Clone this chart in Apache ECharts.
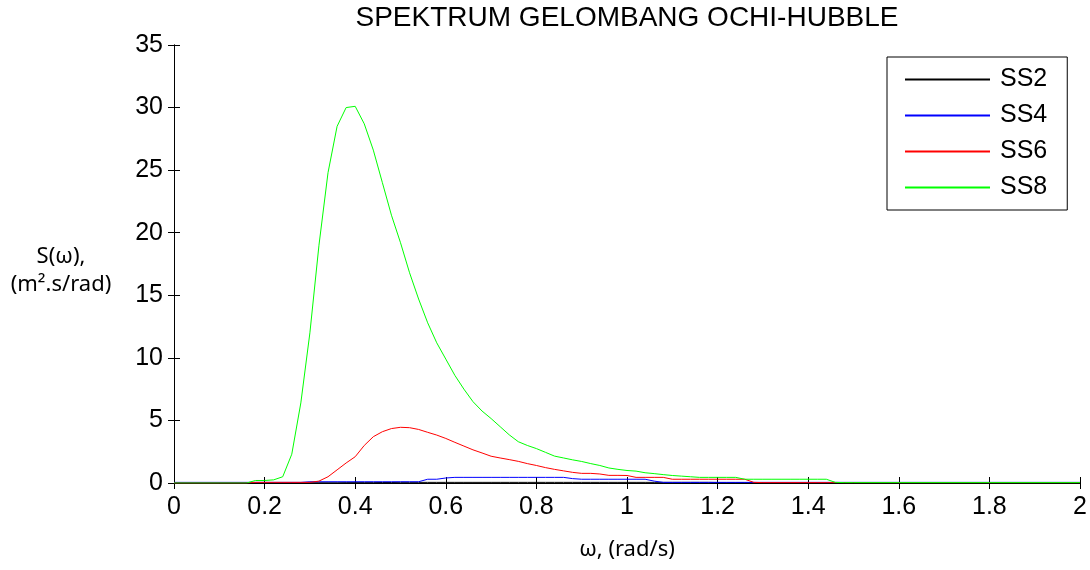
<!DOCTYPE html>
<html>
<head>
<meta charset="utf-8">
<script src="https://cdn.jsdelivr.net/npm/echarts@6/dist/echarts.min.js"></script>
<style>
  html, body { margin: 0; padding: 0; background: #fff; }
  #chart { width: 1090px; height: 570px; }
</style>
</head>
<body>
<div id="chart"></div>
<script>
// omega grid (rad/s)
const omega = [0, 0.1, 0.16,
  0.18, 0.2, 0.22, 0.24, 0.26, 0.28, 0.3, 0.32, 0.34, 0.36, 0.38, 0.4,
  0.42, 0.44, 0.46, 0.48, 0.5, 0.52, 0.54, 0.56, 0.58, 0.6,
  0.62, 0.64, 0.66, 0.68, 0.7, 0.72, 0.74, 0.76, 0.78, 0.8,
  0.82, 0.84, 0.86, 0.88, 0.9, 0.92, 0.94, 0.96, 0.98, 1.0,
  1.02, 1.04, 1.06, 1.08, 1.1, 1.12, 1.14, 1.16, 1.18, 1.2,
  1.22, 1.24, 1.26, 1.28, 1.3, 1.32, 1.34, 1.36, 1.38, 1.4,
  1.42, 1.44, 1.46, 1.48, 1.5, 1.6, 1.8, 2.0];

const ss2 = [0.02, 0.02, 0.02,
  0.02, 0.02, 0.02, 0.02, 0.02, 0.02, 0.02, 0.02, 0.02, 0.02, 0.03, 0.03,
  0.03, 0.03, 0.04, 0.04, 0.05, 0.05, 0.05, 0.05, 0.05, 0.05,
  0.05, 0.05, 0.05, 0.05, 0.05, 0.05, 0.05, 0.05, 0.05, 0.05,
  0.05, 0.05, 0.05, 0.05, 0.05, 0.05, 0.05, 0.05, 0.05, 0.05,
  0.05, 0.05, 0.05, 0.05, 0.05, 0.05, 0.05, 0.05, 0.05, 0.04,
  0.04, 0.04, 0.04, 0.03, 0.03, 0.03, 0.03, 0.03, 0.03, 0.03,
  0.02, 0.02, 0.02, 0.02, 0.02, 0.02, 0.02, 0.02];

const ss4 = [0.05, 0.05, 0.05,
  0.05, 0.05, 0.05, 0.05, 0.05, 0.05, 0.1, 0.1, 0.1, 0.1, 0.1, 0.1,
  0.1, 0.1, 0.1, 0.1, 0.1, 0.1, 0.1, 0.3, 0.3, 0.4,
  0.45, 0.45, 0.45, 0.45, 0.45, 0.45, 0.45, 0.45, 0.45, 0.45,
  0.45, 0.45, 0.45, 0.35, 0.3, 0.3, 0.3, 0.3, 0.3, 0.3,
  0.3, 0.3, 0.15, 0.05, 0.05, 0.05, 0.05, 0.05, 0.05, 0.05,
  0.05, 0.05, 0.05, 0.05, 0.05, 0.05, 0.05, 0.05, 0.05, 0.05,
  0.05, 0.05, 0.05, 0.05, 0.05, 0.05, 0.05, 0.05];

const ss6 = [0, 0, 0,
  0.05, 0.05, 0.05, 0.05, 0.05, 0.05, 0.05, 0.15, 0.5, 1.05, 1.6, 2.1,
  3.0, 3.7, 4.1, 4.35, 4.45, 4.42, 4.28, 4.05, 3.83, 3.56,
  3.25, 2.95, 2.65, 2.4, 2.14, 2.0, 1.87, 1.73, 1.55, 1.4,
  1.23, 1.09, 0.97, 0.85, 0.77, 0.77, 0.72, 0.61, 0.61, 0.6,
  0.45, 0.45, 0.45, 0.45, 0.3, 0.3, 0.3, 0.3, 0.3, 0.3,
  0.3, 0.3, 0.3, 0.05, 0.03, 0.03, 0.03, 0.03, 0.03, 0.03,
  0.03, 0.03, 0.03, 0.03, 0.03, 0.03, 0.03, 0.03];

const ss8 = [0, 0, 0,
  0.2, 0.2, 0.25, 0.5, 2.3, 6.4, 12.0, 19.0, 24.8, 28.5, 30.0, 30.1,
  28.7, 26.6, 24.0, 21.4, 19.2, 16.8, 14.7, 12.8, 11.2, 9.9,
  8.6, 7.5, 6.5, 5.75, 5.15, 4.5, 3.85, 3.3, 3.0, 2.75,
  2.45, 2.15, 2.0, 1.85, 1.72, 1.55, 1.4, 1.2, 1.09, 1.0,
  0.95, 0.82, 0.75, 0.67, 0.6, 0.55, 0.5, 0.45, 0.45, 0.45,
  0.45, 0.45, 0.3, 0.3, 0.3, 0.3, 0.3, 0.3, 0.3, 0.3,
  0.3, 0.3, 0.05, 0.03, 0.03, 0.03, 0.03, 0.03];

const seriesNames = ['SS2', 'SS4', 'SS6', 'SS8'];
const seriesColors = ['#000000', '#0000ff', '#ff0000', '#00ff00'];
const seriesData = [ss2, ss4, ss6, ss8];

const FONT = 'Liberation Sans, Arial, sans-serif';

function pairs(ys) {
  return omega.map((w, i) => [w, ys[i]]);
}

const chart = echarts.init(document.getElementById('chart'));

const mirrorAxis = {
  axisLine: { show: true, lineStyle: { color: '#000', width: 1 } },
  axisTick: { show: true, inside: true, length: 6, lineStyle: { color: '#000' } },
  axisLabel: { show: false },
  splitLine: { show: false }
};

chart.setOption({
  animation: false,
  backgroundColor: '#fff',
  color: seriesColors,
  title: {
    text: 'SPEKTRUM GELOMBANG OCHI-HUBBLE',
    left: 627,
    textAlign: 'center',
    top: 4,
    padding: 0,
    textStyle: { fontFamily: FONT, fontSize: 28, fontWeight: 'normal', color: '#000' }
  },
  legend: {
    data: seriesNames.map((n, i) => ({
      name: n,
      itemStyle: { color: seriesColors[i], borderWidth: 0 }
    })),
    icon: 'rect',
    orient: 'vertical',
    left: 887,
    top: 57,
    padding: [10, 20, 10, 18],
    itemWidth: 85,
    itemHeight: 2,
    itemGap: 11,
    borderColor: '#000',
    borderWidth: 1,
    backgroundColor: '#fff',
    textStyle: { fontFamily: FONT, fontSize: 25, color: '#000', padding: [0, 0, 0, 5] }
  },
  grid: { left: 174, right: 10, top: 45, bottom: 87 },
  xAxis: [
    {
      type: 'value',
      min: 0, max: 2, interval: 0.2,
      name: 'ω, (rad/s)',
      nameLocation: 'middle',
      nameGap: 56,
      nameTextStyle: { fontFamily: 'Noto Sans', fontSize: 22, color: '#000' },
      axisLine: { show: true, onZero: false, lineStyle: { color: '#000', width: 1 } },
      axisTick: { show: true, inside: true, length: 6, lineStyle: { color: '#000' } },
      axisLabel: {
        margin: 12, fontFamily: FONT, fontSize: 25, color: '#000',
        formatter: v => String(+v.toFixed(1))
      },
      splitLine: { show: false }
    },
    Object.assign({ type: 'value', position: 'top', min: 0, max: 2, interval: 0.2 }, mirrorAxis)
  ],
  yAxis: [
    {
      type: 'value',
      min: 0, max: 35, interval: 5,
      axisLine: { show: true, lineStyle: { color: '#000', width: 1 } },
      axisTick: { show: true, inside: true, length: 6, lineStyle: { color: '#000' } },
      axisLabel: { margin: 11, fontFamily: FONT, fontSize: 25, color: '#000' },
      splitLine: { show: false }
    },
    Object.assign({ type: 'value', position: 'right', min: 0, max: 35, interval: 5 }, mirrorAxis)
  ],
  graphic: [
    {
      type: 'text',
      x: 61, y: 243,
      style: {
        text: 'S(ω),\n(m².s/rad)',
        align: 'center',
        lineHeight: 28,
        fontFamily: 'Noto Sans',
        fontSize: 22,
        fill: '#000'
      }
    }
  ],
  series: seriesNames.map((name, i) => ({
    name: name,
    type: 'line',
    symbol: 'none',
    data: pairs(seriesData[i]),
    lineStyle: { color: seriesColors[i], width: 1 },
    itemStyle: { color: seriesColors[i] }
  }))
});
</script>
</body>
</html>
